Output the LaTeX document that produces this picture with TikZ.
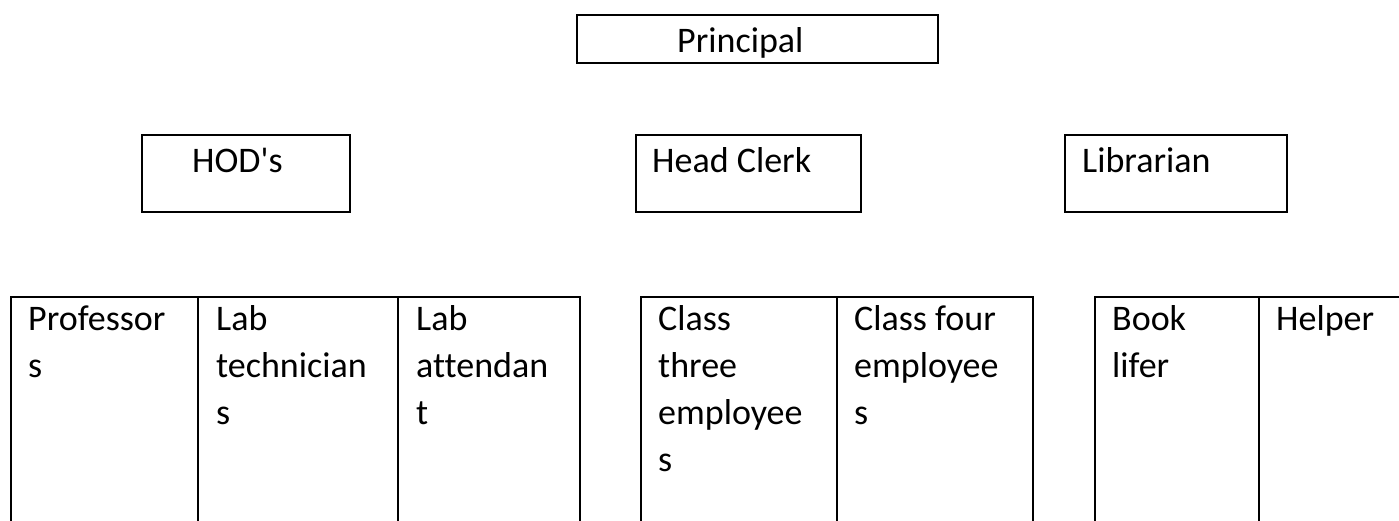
\documentclass[tikz,border=0pt]{standalone}
\usepackage{fontspec}
\setmainfont{Carlito}[Ligatures={TeXOff,CommonOff}]
\begin{document}
\begin{tikzpicture}[x=1pt,y=-1pt,
  box/.style={draw, line width=2.8pt, rectangle, inner sep=0pt},
  lbl/.style={anchor=base west, inner sep=0pt, font=\fontsize{36}{47}\selectfont},
  tbl/.style={line width=2.4pt}]
\useasboundingbox (0,0) rectangle (1399,521);
% top level
\node[box, minimum width=361pt, minimum height=48pt] (principal) at (757.5,39) {};
\node[lbl] (tprincipal) at (677,53) {Principal};
% second level
\node[box, minimum width=208pt, minimum height=77pt] (hod) at (246,173.5) {};
\node[lbl] (thod) at (192,173) {HOD's};
\node[box, minimum width=225pt, minimum height=77pt] (clerk) at (748.5,173.5) {};
\node[lbl] (tclerk) at (652,173) {Head Clerk};
\node[box, minimum width=222pt, minimum height=77pt] (lib) at (1176,173.5) {};
\node[lbl] (tlib) at (1082,173) {Librarian};
% table group 1
\draw[tbl] (11,521) |- (580,297) -- (580,521);
\draw[tbl] (198,297) -- (198,521);
\draw[tbl] (398,297) -- (398,521);
% table group 2
\draw[tbl] (641,521) |- (1033,297) -- (1033,521);
\draw[tbl] (837,297) -- (837,521);
% table group 3
\draw[tbl] (1095,521) |- (1399,297);
\draw[tbl] (1259,297) -- (1259,521);
% cell texts
\node[lbl] (c1) at (28,330) {\vtop{\hbox{Professor}\hbox{s}}};
\node[lbl] (c2) at (216,330) {\vtop{\hbox{Lab}\hbox{technician}\hbox{s}}};
\node[lbl] (c3) at (416,330) {\vtop{\hbox{Lab}\hbox{attendan}\hbox{t}}};
\node[lbl] (c4) at (658,330) {\vtop{\hbox{Class}\hbox{three}\hbox{employee}\hbox{s}}};
\node[lbl] (c5) at (854,330) {\vtop{\hbox{Class four}\hbox{employee}\hbox{s}}};
\node[lbl] (c6) at (1112,330) {\vtop{\hbox{Book}\hbox{lifer}}};
\node[lbl] (c7) at (1276,330) {Helper};
\end{tikzpicture}
\end{document}
